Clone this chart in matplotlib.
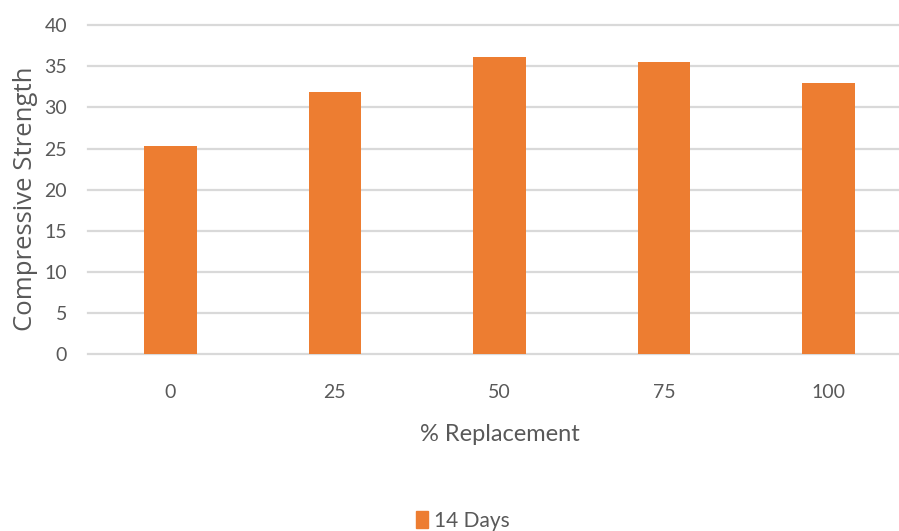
import matplotlib
matplotlib.use("Agg")
import matplotlib.pyplot as plt
from matplotlib.patches import Patch
import numpy as np

# Compressive strength at 14 days for each replacement level
replacement = ["0", "25", "50", "75", "100"]
strength_14d = [25.3, 31.9, 36.1, 35.5, 32.9]
y_ticks = [0, 5, 10, 15, 20, 25, 30, 35, 40]

BAR_COLOR = "#ED7D31"
TEXT_COLOR = "#595959"
GRID_COLOR = "#D9D9D9"
BODY = ["Lato", "DejaVu Sans"]

fig = plt.figure(figsize=(8.99, 5.31), dpi=100)
ax = fig.add_axes([0.0979, 0.3324, 0.9155, 0.6205])

x = np.arange(len(replacement))
ax.bar(x, strength_14d, width=0.32, color=BAR_COLOR, zorder=3)

ax.set_xlim(-0.5, len(replacement) - 0.5)
ax.set_ylim(0, 40)
ax.set_yticks(y_ticks)
ax.set_xticks(x)
ax.set_xticklabels(replacement)

ax.grid(axis="y", color=GRID_COLOR, lw=1.6, zorder=0)
for gl in ax.get_ygridlines():
    gl.set_clip_on(False)
for s in ax.spines.values():
    s.set_visible(False)
ax.tick_params(length=0, colors=TEXT_COLOR, labelsize=14)
ax.tick_params(axis="y", pad=15)
ax.tick_params(axis="x", pad=21)
for lab in ax.get_xticklabels() + ax.get_yticklabels():
    lab.set_family(BODY)

ax.set_xlabel("% Replacement", fontsize=17, color=TEXT_COLOR,
              family=BODY, labelpad=17)
fig.text(0.028, 0.625, "Compressive Strength", rotation=90, ha="center",
         va="center", fontsize=18.5, color=TEXT_COLOR, family="Open Sans")

fig.legend(handles=[Patch(color=BAR_COLOR, label="14 Days")],
           loc="center", bbox_to_anchor=(0.515, 0.019), frameon=False,
           prop={"family": BODY, "size": 15}, labelcolor=TEXT_COLOR,
           handlelength=0.55, handleheight=0.9, handletextpad=0.3,
           borderpad=0, borderaxespad=0)

fig.savefig("out.png", dpi=100)
